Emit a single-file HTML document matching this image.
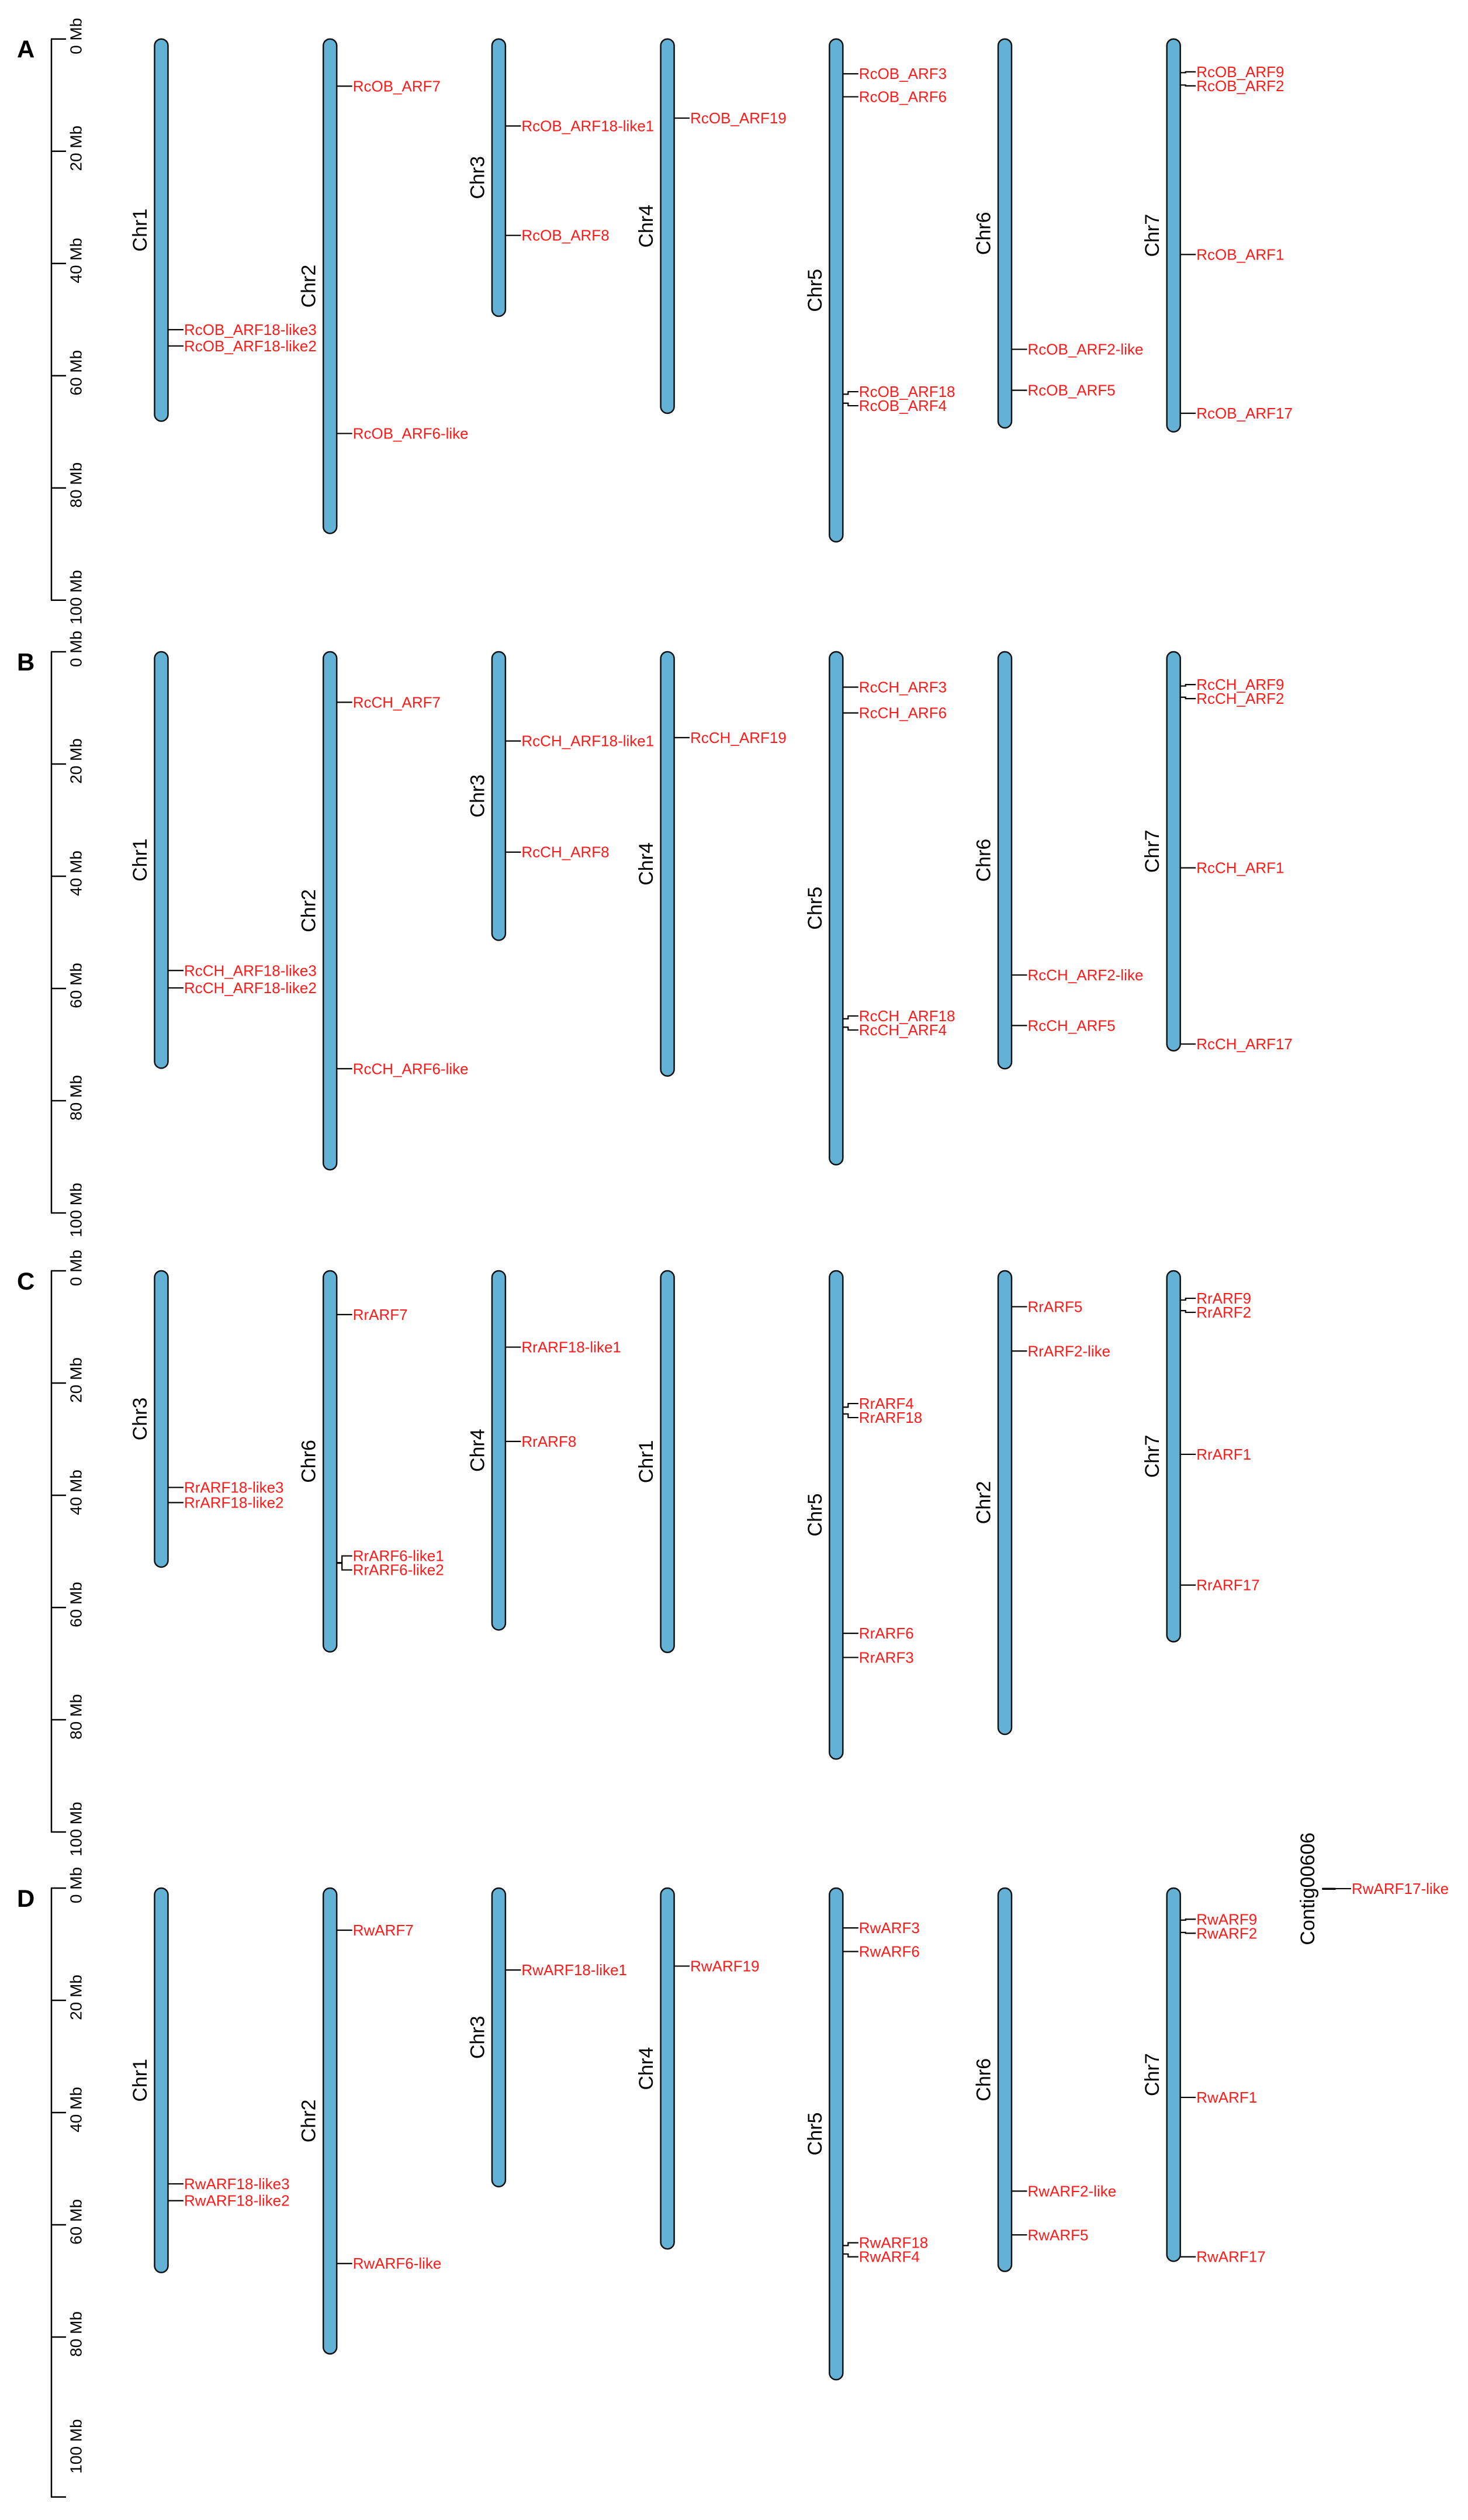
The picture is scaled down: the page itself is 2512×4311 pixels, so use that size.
<!DOCTYPE html>
<html><head><meta charset="utf-8"><title>ARF chromosome map</title>
<style>
html,body{margin:0;padding:0;background:#fff;}
svg{display:block;font-family:"Liberation Sans",Arial,sans-serif;}
</style></head>
<body>
<svg id="fig" xmlns="http://www.w3.org/2000/svg" width="2512" height="4311" viewBox="0 0 2512 4311"></svg>
<script>
// ---------- Panel A ----------
const chrNamesA = ["Chr1","Chr2","Chr3","Chr4","Chr5","Chr6","Chr7"];
const chrLenA = [68.1,88.1,49.4,66.7,89.6,69.3,70.0];
const geneNamesA = ["RcOB_ARF18-like3","RcOB_ARF18-like2","RcOB_ARF7","RcOB_ARF6-like","RcOB_ARF18-like1","RcOB_ARF8","RcOB_ARF19","RcOB_ARF3","RcOB_ARF6","RcOB_ARF18","RcOB_ARF4","RcOB_ARF2-like","RcOB_ARF5","RcOB_ARF9","RcOB_ARF2","RcOB_ARF1","RcOB_ARF17"];
const geneChrA = [0,0,1,1,2,2,3,4,4,4,4,5,5,6,6,6,6];
const genePosA = [51.8,54.7,8.4,70.3,15.5,35.0,14.1,6.2,10.3,63.3,64.9,55.3,62.6,6.0,8.2,38.4,66.7];
// ---------- Panel B ----------
const chrNamesB = ["Chr1","Chr2","Chr3","Chr4","Chr5","Chr6","Chr7"];
const chrLenB = [74.2,92.3,51.4,75.6,91.4,74.3,71.1];
const geneNamesB = ["RcCH_ARF18-like3","RcCH_ARF18-like2","RcCH_ARF7","RcCH_ARF6-like","RcCH_ARF18-like1","RcCH_ARF8","RcCH_ARF19","RcCH_ARF3","RcCH_ARF6","RcCH_ARF18","RcCH_ARF4","RcCH_ARF2-like","RcCH_ARF5","RcCH_ARF9","RcCH_ARF2","RcCH_ARF1","RcCH_ARF17"];
const geneChrB = [0,0,1,1,2,2,3,4,4,4,4,5,5,6,6,6,6];
const genePosB = [56.8,59.9,9.0,74.3,15.9,35.7,15.3,6.3,10.9,65.4,66.9,57.6,66.6,6.1,8.1,38.5,69.9];
// ---------- Panel C ----------
const chrNamesC = ["Chr3","Chr6","Chr4","Chr1","Chr5","Chr2","Chr7"];
const chrLenC = [52.8,67.9,64.0,68.0,87.0,82.6,66.1];
const geneNamesC = ["RrARF18-like3","RrARF18-like2","RrARF7","RrARF6-like1","RrARF6-like2","RrARF18-like1","RrARF8","RrARF4","RrARF18","RrARF6","RrARF3","RrARF5","RrARF2-like","RrARF9","RrARF2","RrARF1","RrARF17"];
const geneChrC = [0,0,1,1,1,2,2,4,4,4,4,5,5,6,6,6,6];
const genePosC = [38.6,41.3,7.8,52.0,52.1,13.6,30.4,24.3,25.5,64.6,68.9,6.4,14.3,5.2,7.1,32.7,56.0];
// ---------- Panel D ----------
const chrNamesD = ["Chr1","Chr2","Chr3","Chr4","Chr5","Chr6","Chr7","Contig00606"];
const chrLenD = [68.5,83.0,53.2,64.3,87.6,68.3,66.5,0.25];
const geneNamesD = ["RwARF18-like3","RwARF18-like2","RwARF7","RwARF6-like","RwARF18-like1","RwARF19","RwARF3","RwARF6","RwARF18","RwARF4","RwARF2-like","RwARF5","RwARF9","RwARF2","RwARF1","RwARF17","RwARF17-like"];
const geneChrD = [0,0,1,1,2,3,4,4,4,4,5,5,6,6,6,6,7];
const genePosD = [52.7,55.7,7.5,66.9,14.6,13.9,7.1,11.3,63.7,65.2,54.0,61.8,5.7,7.9,37.3,65.7,0.1];
// axis ticks
const tickValues = [0,20,40,60,80,100];
const tickLabels = ["0 Mb","20 Mb","40 Mb","60 Mb","80 Mb","100 Mb"];

const NS = "http://www.w3.org/2000/svg";
const svg = document.getElementById("fig");
const PXMB = 9.6, X0 = 276, STEP = 288.7, HALFW = 11.5;
function mk(tag, attrs, parent){
  const e = document.createElementNS(NS, tag);
  for (const k in attrs) e.setAttribute(k, attrs[k]);
  (parent||svg).appendChild(e);
  return e;
}
function drawPanel(letter, top, names, lens, gNames, gChr, gPos, axisEnd, tickLast){
  const g = mk("g", {});
  
  
  const yS = v => top + v * PXMB;
  const L = mk("text", {x:29, y:top+32, "font-size":42, "font-weight":"bold", fill:"#000"}, g);
  L.textContent = letter;
  
  
  // axis
  const ax = mk("line", {x1:88, x2:88, y1:yS(0), y2:yS(axisEnd), stroke:"#000", "stroke-width":2.5}, g);
  
  
  tickValues.forEach((t, i) => {
    if (t <= axisEnd && (tickLast || t < 100 || axisEnd === 100)) {
      const tk = mk("line", {x1:87, x2:113, y1:yS(t), y2:yS(t), stroke:"#000", "stroke-width":2.5}, g);
      
      
    }
    const ty = yS(t) - 5;
    const tl = mk("text", {x:130, y:ty, "font-size":28, fill:"#000", "text-anchor":"middle", "dominant-baseline":"central", transform:"rotate(-90 130 " + ty + ")"}, g);
    tl.textContent = tickLabels[i];
    
    
  });
  if (axisEnd > 100) {
    const tk = mk("line", {x1:87, x2:113, y1:yS(axisEnd), y2:yS(axisEnd), stroke:"#000", "stroke-width":2.5}, g);
    
    
  }
  // chromosomes
  const cxs = names.map((n, i) => n.indexOf("Contig") === 0 ? 2274 : X0 + STEP * i);
  names.forEach((n, i) => {
    const cx = cxs[i];
    const h = Math.max(lens[i] * PXMB, 2.5);
    const isContig = n.indexOf("Contig") === 0;
    const r = mk("rect", {x:cx-HALFW, y:yS(0), width:HALFW*2, height:h, rx:isContig?1:HALFW, ry:isContig?1:HALFW,
      fill:isContig?"#000":"#63b2d6", stroke:"#111", "stroke-width":isContig?1:2.5}, g);
    
    
    const my = yS(0) + h / 2;
    const lx = cx - 36;
    const t = mk("text", {x:lx, y:my, "font-size":34, fill:"#000", "text-anchor":"middle", "dominant-baseline":"central", transform:"rotate(-90 " + lx + " " + my + ")"}, g);
    t.textContent = n;
    
    
  });
  // genes: label layout per chromosome (de-overlap)
  const MINGAP = 24;
  names.forEach((n, ci) => {
    const idx = gChr.map((c, k) => c === ci ? k : -1).filter(k => k >= 0).sort((a, b) => gPos[a] - gPos[b]);
    const ly = idx.map(k => yS(gPos[k]));
    for (let it = 0; it < 60; it++) {
      for (let j = 1; j < ly.length; j++) {
        const d = ly[j] - ly[j-1];
        if (d < MINGAP) { const p = (MINGAP - d) / 2; ly[j-1] -= p; ly[j] += p; }
      }
    }
    idx.forEach((k, j) => {
      const cx = cxs[ci];
      const gy = yS(gPos[k]);
      const x1 = cx + HALFW, x2 = cx + 38;
      const bent = Math.abs(ly[j] - gy) > 1;
      const dpath = bent
        ? "M" + x1 + " " + gy + " H" + (x1 + 9) + " V" + ly[j] + " H" + x2
        : "M" + x1 + " " + gy + " H" + x2;
      const p = mk("path", {d:dpath, fill:"none", stroke:"#000", "stroke-width":2.2}, g);
      
      
      const t = mk("text", {x:x2 + 1, y:ly[j], "font-size":26, fill:"#ff1a1a", "dominant-baseline":"central"}, g);
      t.textContent = gNames[k];
      
      
    });
  });
}
drawPanel("A", 66.7, chrNamesA, chrLenA, geneNamesA, geneChrA, genePosA, 100, true);
drawPanel("B", 1115, chrNamesB, chrLenB, geneNamesB, geneChrB, genePosB, 100, true);
drawPanel("C", 2174, chrNamesC, chrLenC, geneNamesC, geneChrC, genePosC, 100, true);
drawPanel("D", 3230, chrNamesD, chrLenD, geneNamesD, geneChrD, genePosD, 108.5, false);
</script>
</body></html>
